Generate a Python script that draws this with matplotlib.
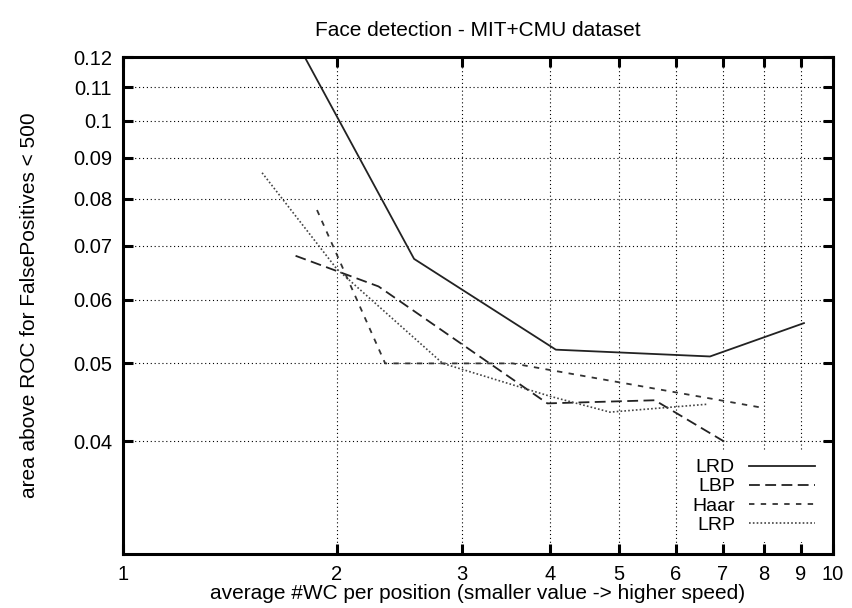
import matplotlib
matplotlib.use("Agg")
import matplotlib.pyplot as plt
from matplotlib.ticker import NullLocator

plt.rcParams["font.family"] = ["Liberation Sans", "DejaVu Sans"]

# values (log-log axes)
lrd_x = [1.70, 2.57, 4.07, 6.71, 9.10]
lrd_y = [0.132, 0.0674, 0.0520, 0.0510, 0.0561]

lbp_x = [1.75, 2.29, 3.96, 5.61, 7.09]
lbp_y = [0.0680, 0.0623, 0.0446, 0.0450, 0.0398]

haar_x = [1.876, 2.34, 3.54, 7.89]
haar_y = [0.0775, 0.0500, 0.0500, 0.0441]

lrp_x = [1.57, 2.0, 2.82, 4.0, 4.85, 6.67]
lrp_y = [0.0862, 0.0655, 0.0500, 0.0455, 0.0435, 0.0445]

xticks = [1, 2, 3, 4, 5, 6, 7, 8, 9, 10]
yticks = [0.04, 0.05, 0.06, 0.07, 0.08, 0.09, 0.1, 0.11, 0.12]
ytick_labels = ["0.04", "0.05", "0.06", "0.07", "0.08", "0.09", "0.1", "0.11", "0.12"]

fig = plt.figure(figsize=(8.53, 6.08), dpi=100)
ax = fig.add_axes([0.1442, 0.0888, 0.8324, 0.8174])

ax.plot(lrd_x, lrd_y, color="#222222", lw=1.3, label="LRD")
ax.plot(lbp_x, lbp_y, color="#222222", lw=1.3, dashes=(6, 3), label="LBP")
ax.plot(haar_x, haar_y, color="#333333", lw=1.3, dashes=(3, 3.5), label="Haar")
ax.plot(lrp_x, lrp_y, color="#444444", lw=1.2, dashes=(1, 1.3), label="LRP")

ax.set_xscale("log")
ax.set_yscale("log")
ax.set_xlim(1, 10)
ax.set_ylim(0.029, 0.12)

ax.set_xticks(xticks)
ax.set_xticklabels([str(v) for v in xticks])
ax.set_yticks(yticks)
ax.set_yticklabels(ytick_labels)
ax.xaxis.set_minor_locator(NullLocator())
ax.yaxis.set_minor_locator(NullLocator())

ax.tick_params(which="major", direction="in", length=7, width=2.2,
               top=True, right=True, labelsize=14.5, pad=8, colors="black")
for s in ax.spines.values():
    s.set_linewidth(2.2)

ax.grid(True, which="major", color="black", linestyle=(0, (1, 2.5)), linewidth=0.8)

ax.set_title("Face detection - MIT+CMU dataset", fontsize=15, pad=15)
ax.set_xlabel("average #WC per position (smaller value -> higher speed)",
              fontsize=15, labelpad=0)
ax.set_ylabel("area above ROC for FalsePositives < 500", fontsize=15, labelpad=24)

leg = ax.legend(loc="lower right", bbox_to_anchor=(0.985, 0.025), markerfirst=False,
                frameon=True, fontsize=14, handlelength=3.4, labelspacing=0.08,
                handletextpad=0.7, borderpad=0.4, borderaxespad=0)
leg.get_frame().set_facecolor("white")
leg.get_frame().set_edgecolor("none")
leg.get_frame().set_alpha(1)

fig.savefig("out.png", dpi=100)
